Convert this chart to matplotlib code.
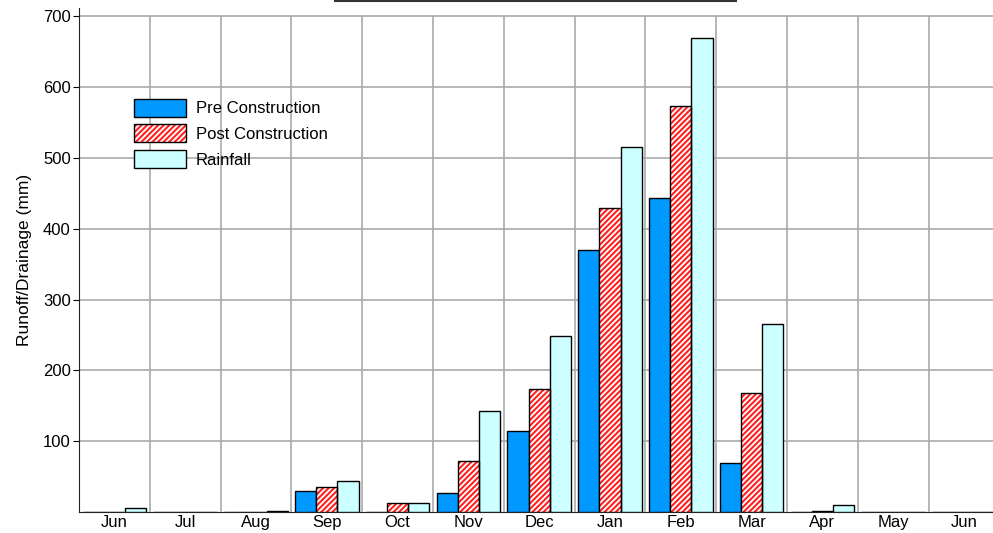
import matplotlib
matplotlib.use("Agg")
import matplotlib.pyplot as plt
import numpy as np
from matplotlib.lines import Line2D
from matplotlib.legend_handler import HandlerTuple
from matplotlib.patches import Patch

plt.rcParams['font.family'] = ['Liberation Sans', 'DejaVu Sans']
plt.rcParams['hatch.linewidth'] = 1.5

months = ['Jun', 'Jul', 'Aug', 'Sep', 'Oct', 'Nov', 'Dec', 'Jan', 'Feb', 'Mar', 'Apr', 'May', 'Jun']
pre = [0, 0, 0, 29, 0, 27, 115, 370, 443, 69, 0, 0, 0]
post = [0, 0, 0, 35, 13, 72, 174, 429, 573, 168, 1, 0, 0]
rain = [5, 0, 1, 44, 13, 143, 248, 515, 670, 265, 10, 0, 0]

blue = '#0099FF'
cyan = '#CCFFFF'
red = '#FF2020'
fs = 12

fig = plt.figure(figsize=(9.93, 5.33), dpi=100)
ax = fig.add_axes([0.0796, 0.0394, 0.9204, 0.9456])

x = np.arange(len(months))
w = 0.3
ax.bar(x - w, pre, w, color=blue, edgecolor='black', linewidth=1, zorder=3)
ax.bar(x, post, w, color='white', edgecolor=red, hatch='//////', linewidth=0, zorder=3)
ax.bar(x, post, w, fill=False, edgecolor='black', linewidth=1, zorder=4)
ax.bar(x + w, rain, w, color=cyan, edgecolor='black', linewidth=1, zorder=3)

ax.set_xlim(-0.5, 12.41)
ax.set_ylim(0, 712)
ax.set_xticks(x)
ax.set_xticklabels(months)
ax.set_yticks(range(100, 701, 100))
ax.tick_params(axis='x', length=0, labelsize=fs, pad=2)
ax.tick_params(axis='y', length=4, labelsize=fs, pad=2)
ax.grid(True, axis='y', color='#aaaaaa', linewidth=1.2, zorder=0)
# vertical separators between months, stopping at 700
ax.vlines(np.arange(0.5, 13, 1), 0, 700, color='#aaaaaa', linewidth=1.2, zorder=0)
ax.set_axisbelow(True)
for s in ['top', 'right']:
    ax.spines[s].set_visible(False)
for s in ['left', 'bottom']:
    ax.spines[s].set_color('#222222')
ax.set_ylabel('Runoff/Drainage (mm)', fontsize=12.5, labelpad=8)

# legend
h_pre = Patch(facecolor=blue, edgecolor='black')
h_post = (Patch(facecolor='white', edgecolor=red, hatch='//////', linewidth=0),
          Patch(fill=False, edgecolor='black'))
h_rain = Patch(facecolor=cyan, edgecolor='black')
ax.legend([h_pre, h_post, h_rain], ['Pre Construction', 'Post Construction', 'Rainfall'],
          handler_map={tuple: HandlerTuple(ndivide=1, pad=0)},
          loc='upper left', bbox_to_anchor=(0.044, 0.85), frameon=False,
          fontsize=fs, handlelength=3.1, handleheight=1.3, labelspacing=0.45,
          handletextpad=0.6)

# clipped title underline at the very top
fig.add_artist(Line2D([335 / 993, 736 / 993], [0.998, 0.998], color='#333333', linewidth=1.5))

fig.savefig('out.png', dpi=100)
